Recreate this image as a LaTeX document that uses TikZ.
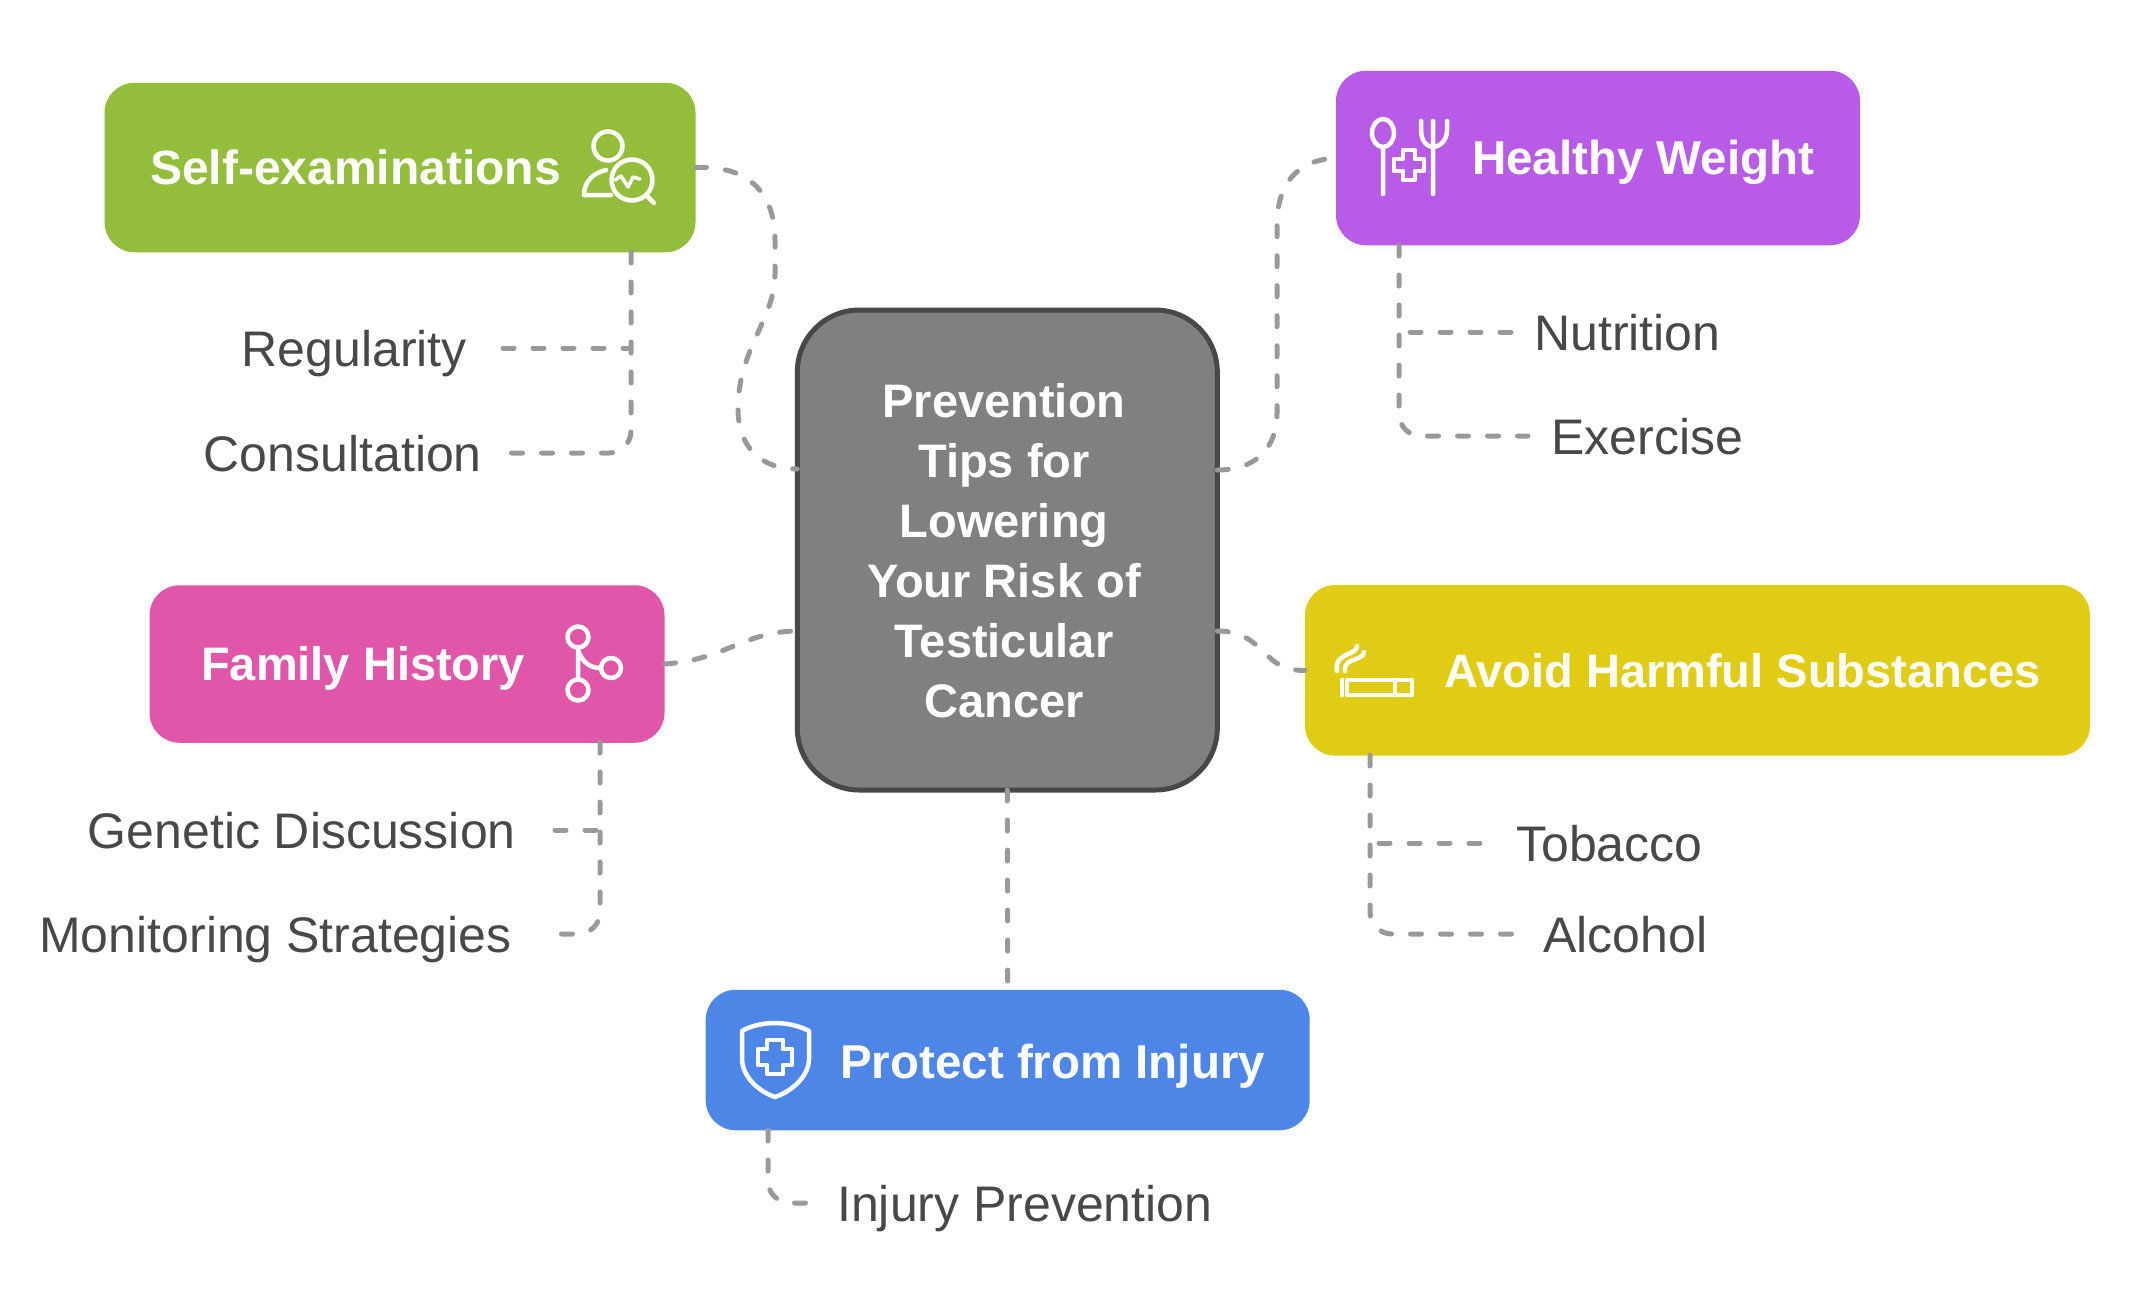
\documentclass[tikz,border=0pt]{standalone}
\usepackage{fontspec}
\setmainfont{Liberation Sans}
\definecolor{selfgreen}{RGB}{147,189,58}
\definecolor{weightpurple}{RGB}{184,92,231}
\definecolor{familypink}{RGB}{224,86,168}
\definecolor{avoidyellow}{RGB}{224,204,20}
\definecolor{protectblue}{RGB}{78,134,232}
\definecolor{coregray}{RGB}{128,128,128}
\definecolor{inkgray}{RGB}{72,72,72}
\definecolor{linkgray}{RGB}{153,153,153}
\tikzset{
  box/.style={rounded corners=30pt,minimum width=#1,inner sep=0pt,outer sep=0pt},
  title/.style={text=white,font=\fontsize{47.5}{60}\selectfont\bfseries,inner sep=0pt,anchor=west},
  leaf/.style={text=inkgray,font=\fontsize{50}{60}\selectfont,inner ysep=0pt,inner xsep=23pt,text height=42pt,text depth=6pt},
  link/.style={draw=linkgray,line width=5pt,line cap=round,dash pattern=on 11pt off 19pt,rounded corners=22pt},
  curve/.style={draw=linkgray,line width=5pt,line cap=round,dash pattern=on 11pt off 19pt},
  icon/.style={draw=white,line width=4.5pt,line cap=round,line join=round}
}
\begin{document}
\begin{tikzpicture}[x=1pt,y=-1pt]
\useasboundingbox (0,0) rectangle (2135,1310);
\node[box=420pt,minimum height=480pt,rounded corners=62pt,fill=coregray,draw=inkgray,line width=5pt] (core) at (1007.3,550) {};
\node[text=white,align=center,inner sep=0pt,font=\fontsize{47}{60}\selectfont\bfseries] (coretext) at (1004,551)
  {Prevention\\Tips for\\Lowering\\Your Risk of\\Testicular\\Cancer};
\node[box=591pt,minimum height=169.5pt,fill=selfgreen] (selfbox) at (400,167.5) {};
\node[box=524pt,minimum height=174.5pt,fill=weightpurple] (weightbox) at (1598,158) {};
\node[box=515pt,minimum height=157.5pt,fill=familypink] (familybox) at (407,664) {};
\node[box=785pt,minimum height=170.5pt,fill=avoidyellow] (avoidbox) at (1697.5,670.3) {};
\node[box=604pt,minimum height=140.5pt,fill=protectblue] (protectbox) at (1007.7,1060) {};
\node[title,font=\fontsize{48}{60}\selectfont\bfseries] (selftitle) at (150,167) {Self-examinations};
\node[title] (weighttitle) at (1472,162) {Healthy Weight};
\node[title,font=\fontsize{47}{60}\selectfont\bfseries] (familytitle) at (201,668) {Family History};
\node[title,font=\fontsize{47}{60}\selectfont\bfseries] (avoidtitle) at (1444,671) {Avoid Harmful Substances};
\node[title] (protecttitle) at (840,1066) {Protect from Injury};
\node[leaf,anchor=east,inner xsep=36pt] (regularity) at (503,348) {Regularity};
\node[leaf,anchor=east] (consultation) at (505,453) {Consultation};
\node[leaf,anchor=west] (nutrition) at (1511,332) {Nutrition};
\node[leaf,anchor=west] (exercise) at (1528,436) {Exercise};
\node[leaf,anchor=east,inner xsep=39pt] (genetic) at (555,830) {Genetic Discussion};
\node[leaf,anchor=east,inner xsep=43pt] (monitoring) at (555,934) {Monitoring Strategies};
\node[leaf,anchor=west,inner xsep=36pt] (tobacco) at (1480,843) {Tobacco};
\node[leaf,anchor=west] (alcohol) at (1520,934) {Alcohol};
\node[leaf,anchor=west] (injury) at (814,1203) {Injury Prevention};
\coordinate (selfstem) at (631,252);
\coordinate (weightstem) at (1399,245);
\coordinate (familystem) at (600,742);
\coordinate (avoidstem) at (1370,755);
\coordinate (protectstem) at (768,1130);
\draw[curve] (selfbox.east) .. controls (745,165) and (775,190) .. (775,240) -- (775,274)
  .. controls (775,319) and (738,349) .. (738,409) .. controls (738,444) and (758,469) .. (core.west |- 0,469);
\draw[curve] (core.east |- 0,470) .. controls (1256,470) and (1277,448) .. (1277,413) -- (1277,225)
  .. controls (1277,185) and (1296,160) .. (weightbox.west);
\draw[curve] (familybox.east) .. controls (725,660) and (745,631) .. (core.west |- 0,631);
\draw[curve] (core.east |- 0,631) .. controls (1266,631) and (1261,672) .. (avoidbox.west);
\draw[curve] (core.south) -- (protectbox.north);
\draw[link] (selfstem) |- (consultation.east);
\draw[link] (regularity.east) -- (selfstem |- regularity);
\draw[link] (weightstem) |- (exercise.west);
\draw[link] (nutrition.west) -- (weightstem |- nutrition);
\draw[link] (familystem) |- (monitoring.east);
\draw[link] (genetic.east) -- (familystem |- genetic);
\draw[link] (avoidstem) |- (alcohol.west);
\draw[link] (tobacco.west) -- (avoidstem |- tobacco);
\draw[link] (protectstem) |- (injury.west);
\draw[icon] (608,146) circle (14.5pt);
\draw[icon] (606,170) .. controls (592,173) and (584,183) .. (584,195) -- (611,195);
\draw[icon] (632,180) circle (20.5pt) (646,195) -- (654,203);
\draw[icon,line width=3.5pt] (615,180) -- (621,176) -- (628,187) -- (633,177) -- (640,179);
\draw[icon] (1383,133) ellipse (11pt and 14pt) (1383,147) -- (1383,194);
\draw[icon] (1433,121) -- (1433,194) (1421,121) -- (1421,130) .. controls (1421,142) and (1428,147) .. (1433,147)
  .. controls (1438,147) and (1447,142) .. (1447,130) -- (1447,121);
\draw[icon] (1403,150) -- (1415,150) -- (1415,159) -- (1424,159) -- (1424,171) -- (1415,171) -- (1415,180) -- (1403,180)
  -- (1403,171) -- (1394,171) -- (1394,159) -- (1403,159) -- cycle;
\draw[icon] (578,637) circle (10.5pt) (578,690) circle (10.5pt) (611,668) circle (10pt) (578,648) -- (578,679)
  (578,650) .. controls (582,662) and (590,668) .. (600,668);
\draw[icon] (1347,680) rectangle (1412,695) (1395,680) -- (1395,695) (1342,680) -- (1342,695);
\draw[icon] (1337,671) .. controls (1335,660) and (1342,657) .. (1348,654) .. controls (1353,652) and (1357,650) .. (1357,646);
\draw[icon] (1345,671) .. controls (1344,663) and (1350,661) .. (1356,659) .. controls (1360,657) and (1364,656) .. (1364,652);
\draw[icon] (775,1023) .. controls (763,1023) and (750,1026) .. (742,1031) -- (742,1060)
  .. controls (743,1078) and (760,1092) .. (775,1097) .. controls (790,1092) and (808,1078) .. (809,1060) -- (809,1031)
  .. controls (800,1026) and (787,1023) .. (775,1023) -- cycle;
\draw[icon] (767,1040) -- (783,1040) -- (783,1049) -- (792,1049) -- (792,1065) -- (783,1065) -- (783,1074) -- (767,1074)
  -- (767,1065) -- (758,1065) -- (758,1049) -- (767,1049) -- cycle;
\end{tikzpicture}
\end{document}
